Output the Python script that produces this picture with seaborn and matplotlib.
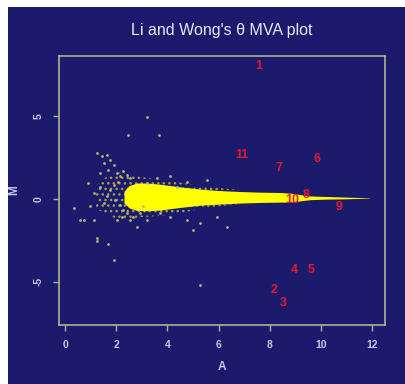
import matplotlib
matplotlib.use("Agg")
import matplotlib.pyplot as plt
import seaborn as sns
import pandas as pd
from matplotlib.patches import Rectangle

# ---- data ----
# dense core of the MA cloud (edges of the solid yellow band)
band_A = [2.3, 2.5, 2.8, 3.2, 3.7, 4.5, 5.3, 6.0, 6.8, 7.6, 8.4, 8.8, 9.2, 9.6, 10.2, 11.0, 11.9]
band_hi = [0.45, 0.80, 0.95, 0.95, 0.88, 0.72, 0.58, 0.50, 0.44, 0.40, 0.38, 0.34, 0.25, 0.17, 0.14, 0.10, 0.06]
band_lo = [-0.25, -0.55, -0.70, -0.72, -0.68, -0.52, -0.38, -0.32, -0.26, -0.22, -0.20, -0.20, -0.12, -0.05, -0.02, 0.00, 0.04]

# fainter, dotted halo of the cloud at low intensity
halo_A = [1.2, 1.6, 2.0, 2.5, 3.0, 4.0, 5.0, 6.0, 7.0]
halo_hi = [0.8, 1.3, 1.6, 1.5, 1.3, 1.1, 0.85, 0.65, 0.5]
halo_lo = [-0.6, -0.9, -1.2, -1.2, -1.1, -1.0, -0.7, -0.45, -0.3]

# isolated points
pts_A = [1.24, 1.43, 1.63, 1.76, 1.50, 1.89, 1.69, 1.37, 2.02, 2.15, 2.28, 2.41, 2.54,
         2.08, 1.89, 1.76, 1.63, 1.50, 1.95, 2.15, 2.28, 2.41, 2.21, 2.02, 2.54, 2.67,
         2.93, 3.19, 1.11, 1.24, 0.72, 0.59, 0.33, 0.98, 1.89, 2.47, 3.65, 2.80, 3.06,
         3.71, 4.10, 4.75, 5.27, 5.93, 5.01, 6.32, 5.54, 4.75, 4.10, 3.58, 3.19, 4.36,
         1.37, 1.11, 0.91, 3.19, 1.24, 1.69, 5.27]
pts_M = [2.75, 2.55, 2.65, 2.35, 2.15, 2.05, 1.75, 1.55, 1.55, 1.35, 1.65, 1.45, 1.25,
         1.04, 0.84, 0.54, 0.14, -0.26, -0.06, -0.36, -0.66, -0.86, -1.07, -1.27, -1.27, -1.07,
         -0.86, -1.27, -1.27, -2.37, -1.27, -1.27, -0.56, -0.46, -3.67, 3.86, 3.86, -1.67, -0.46,
         -0.86, -1.07, -1.27, -1.47, -1.07, -1.87, -1.67, 1.14, 1.04, 1.35, 1.25, 0.95, 0.74,
         0.74, 0.34, 0.95, 4.94, -2.53, -2.71, -5.18]

# numbered genes
gene_ids = ["1", "2", "3", "4", "5", "6", "7", "8", "9", "10", "11"]
gene_A = [7.58, 8.16, 8.52, 8.95, 9.61, 9.84, 8.36, 9.41, 10.70, 8.87, 6.91]
gene_M = [8.01, -5.48, -6.27, -4.28, -4.28, 2.41, 1.87, 0.24, -0.48, -0.06, 2.65]

x_ticks = [0, 2, 4, 6, 8, 10, 12]
y_ticks = [-5, 0, 5]

# ---- styling ----
navy = "#1b1a6c"
box_col = "#b2b28e"
txt_col = "#c8c8ee"
red = "#e8182c"
plt.rcParams["hatch.linewidth"] = 1.0

fig = plt.figure(figsize=(4.05, 3.84), dpi=100, facecolor="white")
bg = Rectangle((8 / 405, 0), 1, 1 - 7 / 384, transform=fig.transFigure,
               facecolor=navy, edgecolor="none", zorder=-10)
fig.patches.append(bg)
ax = fig.add_axes([59 / 405, 59 / 384, 326 / 405, 269 / 384])
ax.set_zorder(5)
ax.set_facecolor(navy)

ax.fill_between(halo_A, halo_lo, halo_hi, facecolor="none", edgecolor="#a0a058",
                hatch="...", linewidth=0)
ax.fill_between(band_A, band_lo, band_hi, color="#ffff00", linewidth=0)

pts = pd.DataFrame({"A": pts_A, "M": pts_M})
sns.scatterplot(data=pts, x="A", y="M", ax=ax, color="#b8b870", s=4, linewidth=0)

for gid, a, m in zip(gene_ids, gene_A, gene_M):
    ax.text(a, m, gid, color=red, fontsize=9, ha="center", va="center",
            family="Liberation Sans", weight="bold")

ax.set_xlim(-0.24, 12.5)
ax.set_ylim(-7.6, 8.6)
ax.set_xticks(x_ticks)
ax.set_yticks(y_ticks)
ax.set_xticklabels([str(t) for t in x_ticks], family="Liberation Sans", weight="bold")
ax.set_yticklabels([str(t) for t in y_ticks], family="Liberation Sans", weight="bold",
                   rotation=90, va="center")
ax.tick_params(colors=box_col, labelcolor=txt_col, labelsize=7.5, length=4, width=1,
               pad=7)
for s in ax.spines.values():
    s.set_color(box_col)
    s.set_linewidth(1.2)

ax.set_xlabel("A", color=txt_col, fontsize=8.5, family="Liberation Sans", weight="bold",
              labelpad=8)
ax.set_ylabel("M", color=txt_col, fontsize=8.5, family="Liberation Sans", weight="bold",
              labelpad=10)

fig.text(222 / 405, 1 - 31 / 384, "Li and Wong's θ MVA plot", color="#e8e8f8",
         fontsize=11.5, ha="center", va="center", family="Liberation Sans")

fig.savefig("out.png", dpi=100, facecolor=fig.get_facecolor())
